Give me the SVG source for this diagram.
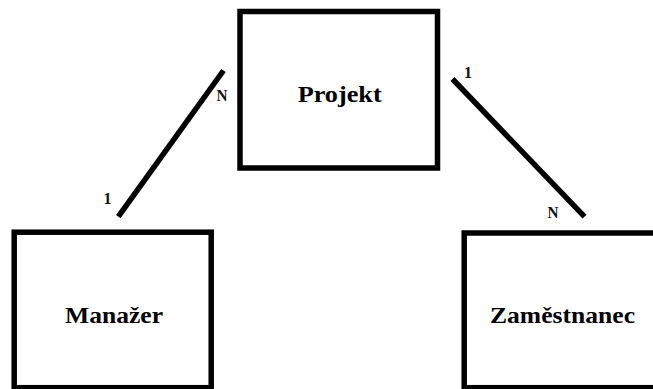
<svg xmlns="http://www.w3.org/2000/svg" width="653" height="389" viewBox="0 0 653 389">
<style>
.box{fill:#fff;stroke:#000;stroke-width:5.5}
.name{font-family:"Liberation Serif","Times New Roman",serif;font-weight:bold;font-size:23px;fill:#000;text-anchor:middle}
.card{font-family:"Liberation Serif","Times New Roman",serif;font-weight:bold;font-size:16px;fill:#111;text-anchor:middle}
.conn{stroke:#000;stroke-width:5.5;stroke-linecap:butt;fill:none}
</style>
<rect width="653" height="389" fill="#fff"/>
<g id="projekt">
<rect class="box" x="240" y="11.5" width="197.5" height="156.5"/>
<text class="name" x="339.7" y="101.7" textLength="84" lengthAdjust="spacingAndGlyphs">Projekt</text>
</g>
<g id="manazer">
<rect class="box" x="14.2" y="232.2" width="197" height="155.5"/>
<text class="name" x="114" y="322.5" textLength="98" lengthAdjust="spacingAndGlyphs">Manažer</text>
</g>
<g id="zamestnanec">
<rect class="box" x="464.2" y="233" width="200" height="154.7"/>
<text class="name" x="562.5" y="323.3" textLength="145" lengthAdjust="spacingAndGlyphs">Zaměstnanec</text>
</g>
<g id="connectors">
<line class="conn" x1="223.5" y1="70.5" x2="118.3" y2="216.7"/>
<line class="conn" x1="452.5" y1="79" x2="584.5" y2="216.7"/>
<text class="card" x="222" y="100.5" textLength="11" lengthAdjust="spacingAndGlyphs">N</text>
<text class="card" x="107.5" y="204">1</text>
<text class="card" x="468" y="77.5">1</text>
<text class="card" x="553" y="218" textLength="11" lengthAdjust="spacingAndGlyphs">N</text>
</g>
</svg>
